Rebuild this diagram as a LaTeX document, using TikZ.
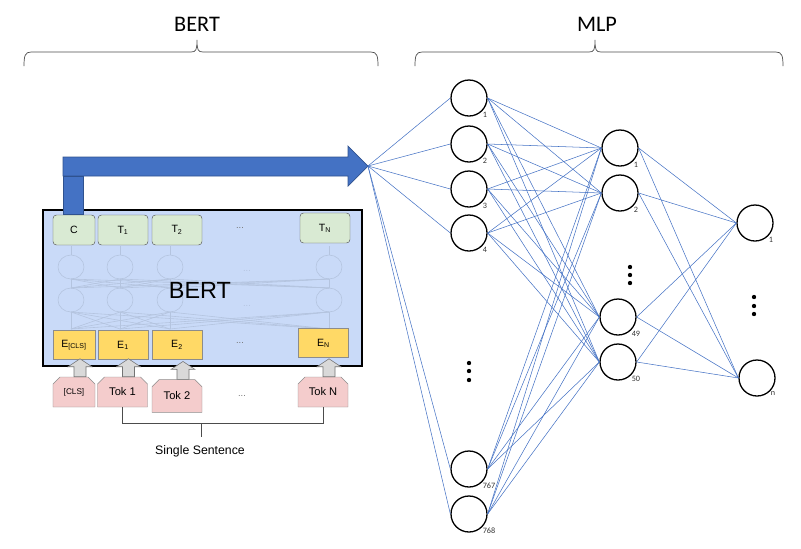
\documentclass[tikz,border=0pt]{standalone}
\usepackage{fontspec}
\setmainfont{Liberation Sans}
\newfontfamily\calibri{Carlito}
\usepackage{tikz}
\usetikzlibrary{calc}
\usetikzlibrary{shapes.misc}

\definecolor{bertbg}{HTML}{C9DAF8}
\definecolor{mlpblue}{HTML}{4472C4}
\definecolor{arrowedge}{HTML}{2F528F}
\definecolor{outgreen}{HTML}{D9EAD3}
\definecolor{embyellow}{HTML}{FFD966}
\definecolor{tokpink}{HTML}{F4CCCC}
\definecolor{faintnet}{HTML}{B4C4DF}

\tikzset{
  brace/.style={draw=black!70, line width=0.6pt},
  title/.style={font=\calibri\fontsize{19}{22}\selectfont},
  outbox/.style={draw=black!65, fill=outgreen, rounded corners=3pt, minimum height=0.9cm,
    inner sep=0pt, font=\fontsize{9}{10}\selectfont},
  embbox/.style={draw=black!45, fill=embyellow, minimum height=0.87cm,
    inner sep=0pt, font=\fontsize{9}{10}\selectfont},
  tokbox/.style={chamfered rectangle, chamfered rectangle corners={north west,north east},
    chamfered rectangle sep=3pt, draw=black!45, fill=tokpink, minimum height=0.9cm,
    inner sep=0pt, font=\fontsize{9.5}{10}\selectfont},
  gap/.style={text=black!55, font=\fontsize{8}{9}\selectfont},
  uparrow/.style={draw=black!55, fill=black!15, line width=0.5pt},
  faint/.style={draw=faintnet, line width=0.5pt},
  bigarrow/.style={draw=arrowedge, fill=mlpblue, line width=0.6pt},
  neuron/.style={circle, draw=black, line width=1.1pt, minimum size=1.08cm, inner sep=0pt},
  numlab/.style={font=\calibri\fontsize{7}{8}\selectfont, inner sep=0.3pt, text=black!80},
  wire/.style={draw=mlpblue, line width=0.45pt},
  dot/.style={circle, fill=black, inner sep=0pt, minimum size=0.13cm}
}

\begin{document}
\begin{tikzpicture}[x=0.03cm, y=-0.03cm]
\useasboundingbox (0,0) rectangle (801,548);

% First, the two braces with their titles
\draw[brace] (24,66) .. controls (24,56) and (25,52) .. (31,52) -- (191,52)
  .. controls (196,52) and (197,50) .. (197,40) .. controls (197,50) and (198,52) .. (203,52)
  -- (371,52) .. controls (377,52) and (378,56) .. (378,66);
\node[title] (berttitle) at (197,24) {BERT};
\draw[brace] (415,66) .. controls (415,56) and (416,52) .. (422,52) -- (589,52)
  .. controls (594,52) and (595,50) .. (595,40) .. controls (595,50) and (596,52) .. (601,52)
  -- (776,52) .. controls (782,52) and (783,56) .. (783,66);
\node[title] (mlptitle) at (597,24) {MLP};

% The BERT block
\draw[line width=1.5pt, fill=bertbg] (43,210) rectangle (362,366);

% faint inner network, drawn under everything else
\foreach \x in {71,120,170,329} {
  \draw[faint] (\x,267) ellipse [x radius=13, y radius=12];
  \draw[faint] (\x,300) ellipse [x radius=13, y radius=12];
  \draw[faint] (\x,255) -- (\x,246);
  \foreach \xx in {71,120,170,329} {
    \draw[faint] (\x,288) -- (\xx,279);
    \draw[faint] (\x,329) -- (\xx,312);
  }
}
\node[gap, text=faintnet] (fdots1) at (247,271) {...};
\node[gap, text=faintnet] (fdots2) at (247,306) {...};
\node[font=\fontsize{20}{22}\selectfont] (berttxt) at (200,290) {BERT};

% output row
\node[outbox, minimum width=1.26cm] (c) at (74,230) {C};
\node[outbox, minimum width=1.5cm] (t1) at (123,230) {T\textsubscript{1}};
\node[outbox, minimum width=1.5cm] (t2) at (177,230) {T\textsubscript{2}};
\node[gap] (tdots) at (240,228) {...};
\node[outbox, minimum width=1.5cm] (tn) at (325,228) {T\textsubscript{N}};

% embedding row
\node[embbox, minimum width=1.26cm] (ecls) at (74,345) {E\textsubscript{[CLS]}};
\node[embbox, minimum width=1.5cm] (e1) at (123,345) {E\textsubscript{1}};
\node[embbox, minimum width=1.5cm] (e2) at (177,345) {E\textsubscript{2}};
\node[gap] (edots) at (240,343) {...};
\node[embbox, minimum width=1.5cm] (en) at (323.5,343) {E\textsubscript{N}};

% tokens
\node[tokbox, minimum width=1.26cm, font=\fontsize{7}{8}\selectfont] (tcls) at (74,392) {[CLS]};
\node[tokbox, minimum width=1.5cm] (tok1) at (122.5,392) {Tok 1};
\node[tokbox, minimum width=1.5cm, minimum height=0.98cm] (tok2) at (177,396) {Tok 2};
\node[gap] (tokdots) at (242,396) {...};
\node[tokbox, minimum width=1.5cm] (tokn) at (323,392) {Tok N};

% gray arrows from tokens up to embeddings (sitting a little right of centre)
\foreach \t in {tcls,tok1,tok2,tokn}
  \draw[uparrow] ($(\t.north)+(0,0)$) -- ++(0,-10) -- ++(-6,0) -- ++(12,-8) -- ++(12,8)
    -- ++(-6,0) -- ++(0,10) -- cycle;

% bracket under the sentence
\draw[black!70, line width=0.6pt] (tok1.south) -- ++(0,16) -| (tokn.south);
\coordinate (brk) at (201,423);
\coordinate (brkend) at (201,437);
\draw[black!70, line width=0.6pt] (brk) -- (brkend);
\node[font=\fontsize{10.5}{12}\selectfont] (sent) at (200,451) {Single Sentence};

% big blue arrow from C to the MLP
\draw[bigarrow] (63,176) -- (63,157) -- (348,157) -- (348,146) -- (368,166) -- (348,186)
  -- (348,176) -- cycle;
\draw[bigarrow] (63,176) rectangle (83,214);
\coordinate (tip) at (368,166);

% Now the MLP neurons
\foreach \n/\y in {1/98,2/144,3/189,4/233,767/469,768/514}
  \node[neuron, label={[numlab]-45:\n}] (i\n) at (469,\y) {};
\foreach \n/\x/\y in {1/620/148,2/620/193,49/618/317,50/618/362}
  \node[neuron, label={[numlab]-45:\n}] (h\n) at (\x,\y) {};
\node[neuron, label={[numlab]-45:1}] (o1) at (755,223) {};
\node[neuron, label={[numlab]-45:n}] (on) at (757,378) {};

% vertical dots
\foreach \y in {363,371,380} \node[dot] (di\y) at (469,\y) {};
\foreach \y in {267,275,283} \node[dot] (dh\y) at (630,\y) {};
\foreach \y in {297,306,314} \node[dot] (do\y) at (754,\y) {};

% Finally the wires
\foreach \a in {1,2,3,4,767,768} {
  \draw[wire] (tip) -- (i\a.west);
  \foreach \b in {1,2,49,50}
    \draw[wire] (i\a.east) -- (h\b.west);
}
\foreach \b in {1,2,49,50}
  \foreach \c in {1,n}
    \draw[wire] (h\b.east) -- (o\c.west);

\end{tikzpicture}
\end{document}
